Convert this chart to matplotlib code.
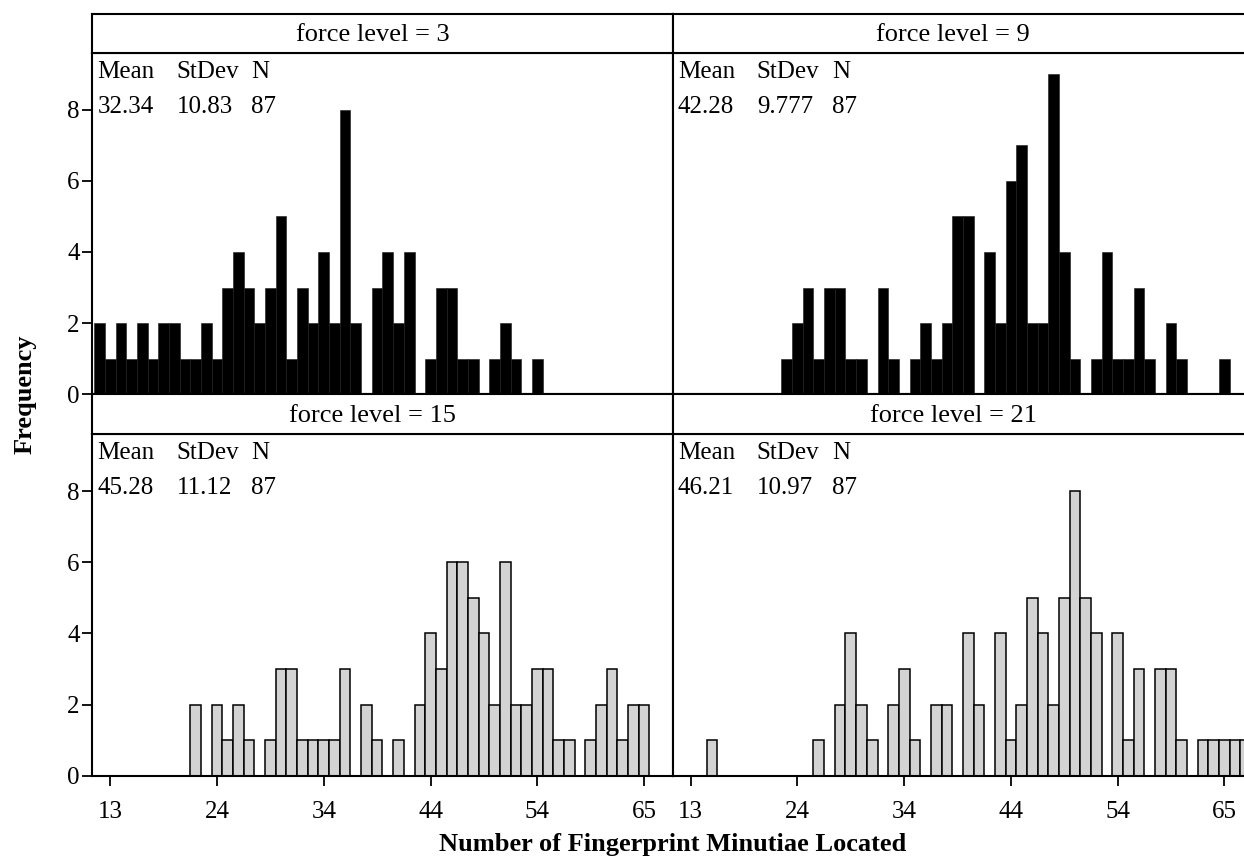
import numpy as np
import matplotlib
matplotlib.use("Agg")
import matplotlib.pyplot as plt

plt.rcParams['font.family'] = ['Liberation Serif', 'DejaVu Serif']

# bins (Minitab style histogram, width ~1.03 minutiae)
bin_start = 12.22
bin_width = 1.03
n_bins = 54

tick_pos = [13.25, 23.55, 33.85, 44.15, 54.45, 64.75]
tick_labels = ['13', '24', '34', '44', '54', '65']

counts_f3 = [2, 1, 2, 1, 2, 1, 2, 2, 1, 1,
             2, 1, 3, 4, 3, 2, 3, 5, 1, 3,
             2, 4, 2, 8, 2, 0, 3, 4, 2, 4,
             0, 1, 3, 3, 1, 1, 0, 1, 2, 1,
             0, 1, 0, 0, 0, 0, 0, 0, 0, 0,
             0, 0, 0, 0]
counts_f9 = [0, 0, 0, 0, 0, 0, 0, 0, 0, 0,
             1, 2, 3, 1, 3, 3, 1, 1, 0, 3,
             1, 0, 1, 2, 1, 2, 5, 5, 0, 4,
             2, 6, 7, 2, 2, 9, 4, 1, 0, 1,
             4, 1, 1, 3, 1, 0, 2, 1, 0, 0,
             0, 1, 0, 0]
counts_f15 = [0, 0, 0, 0, 0, 0, 0, 0, 0, 2,
              0, 2, 1, 2, 1, 0, 1, 3, 3, 1,
              1, 1, 1, 3, 0, 2, 1, 0, 1, 0,
              2, 4, 3, 6, 6, 5, 4, 2, 6, 2,
              2, 3, 3, 1, 1, 0, 1, 2, 3, 1,
              2, 2, 0, 0]
counts_f21 = [0, 0, 0, 1, 0, 0, 0, 0, 0, 0,
              0, 0, 0, 1, 0, 2, 4, 2, 1, 0,
              2, 3, 1, 0, 2, 2, 0, 4, 2, 0,
              4, 1, 2, 5, 4, 2, 5, 8, 5, 4,
              0, 4, 1, 3, 0, 3, 3, 1, 0, 1,
              1, 1, 1, 1]

force_levels = ['3', '9', '15', '21']
means = ['32.34', '42.28', '45.28', '46.21']
stdevs = ['10.83', '9.777', '11.12', '10.97']
ns = ['87', '87', '87', '87']

centers = bin_start + bin_width * np.arange(n_bins)

W, H = 1244, 866
fig = plt.figure(figsize=(W / 100, H / 100), dpi=100)


def fx(px):
    return px / W


def fy(py):
    return 1 - py / H


panel_w = 580.4
lefts = [92.3, 672.7]
# (plot top, plot bottom, strip top) in pixels
rows = [(52.7, 394.3, 14.0), (434.3, 775.7, 394.3)]

all_counts = [counts_f3, counts_f9, counts_f15, counts_f21]
lw = 1.5

for i in range(4):
    r, c = divmod(i, 2)
    top, bot, stop = rows[r]
    ax = fig.add_axes([fx(lefts[c]), fy(bot), panel_w / W, (bot - top) / H])
    sax = fig.add_axes([fx(lefts[c]), fy(top), panel_w / W, (top - stop) / H])

    if r == 0:
        ax.bar(centers, all_counts[i], width=bin_width, color='black',
               edgecolor='#1a1a1a', linewidth=0.4)
    else:
        ax.bar(centers, all_counts[i], width=bin_width, color='#d3d3d3',
               edgecolor='black', linewidth=1.1)

    ax.set_xlim(bin_start - 0.69 * bin_width, bin_start + 53.69 * bin_width)
    ax.set_ylim(0, 9.6)
    ax.set_yticks([0, 2, 4, 6, 8])
    ax.set_xticks(tick_pos)
    ax.set_xticklabels(tick_labels)
    ax.tick_params(direction='out', length=7, width=1.3, labelsize=18, colors='black')
    ax.tick_params(axis='x', pad=11)
    ax.tick_params(axis='y', pad=2)
    if r == 0:
        ax.tick_params(axis='x', bottom=False, labelbottom=False)
    if c == 1:
        ax.tick_params(axis='y', left=False, labelleft=False)
    for s in ax.spines.values():
        s.set_linewidth(lw)

    # stats box
    ax.text(0.009, 0.944, 'Mean', transform=ax.transAxes, fontsize=18, va='center', ha='left')
    ax.text(0.145, 0.944, 'StDev', transform=ax.transAxes, fontsize=18, va='center', ha='left')
    ax.text(0.274, 0.944, 'N', transform=ax.transAxes, fontsize=18, va='center', ha='left')
    ax.text(0.009, 0.842, means[i], transform=ax.transAxes, fontsize=18, va='center', ha='left')
    ax.text(0.145, 0.842, stdevs[i], transform=ax.transAxes, fontsize=18, va='center', ha='left')
    ax.text(0.274, 0.842, ns[i], transform=ax.transAxes, fontsize=18, va='center', ha='left')

    # strip
    sax.set_xticks([])
    sax.set_yticks([])
    for s in sax.spines.values():
        s.set_linewidth(lw)
    sax.text(0.483, 0.45, 'force level = ' + force_levels[i], transform=sax.transAxes,
             fontsize=19, ha='center', va='center')

fig.text(0.020, fy(394.5), 'Frequency', rotation=90, fontsize=19, fontweight='bold',
         ha='center', va='center')
fig.text(fx(672.7), fy(845), 'Number of Fingerprint Minutiae Located', fontsize=19,
         fontweight='bold', ha='center', va='center')

fig.savefig('out.png', dpi=100)
